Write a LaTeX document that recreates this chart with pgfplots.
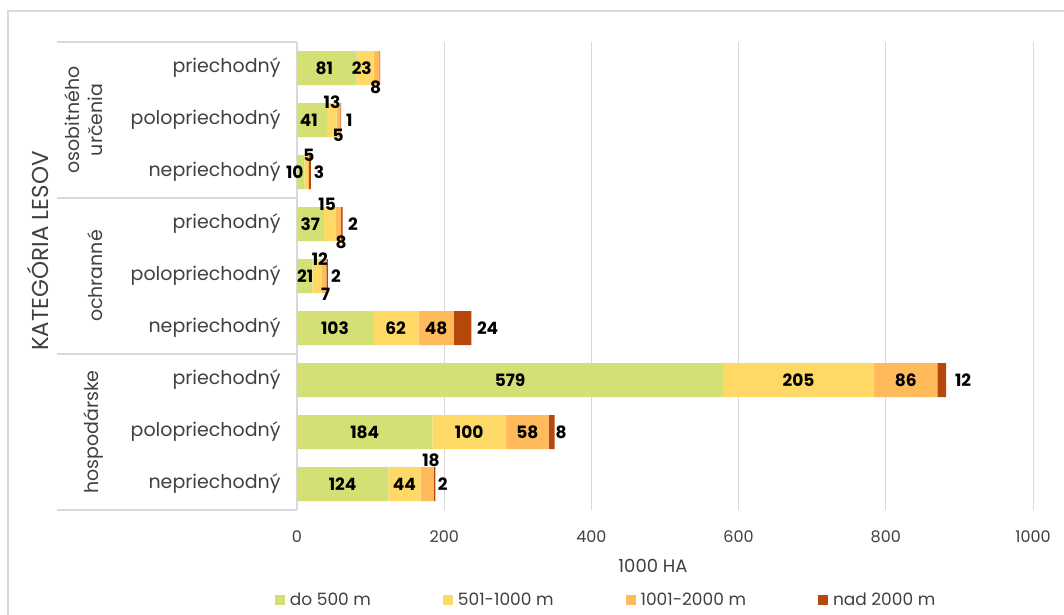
\documentclass[border=0pt]{standalone}
\usepackage{pgfplots}
\pgfplotsset{compat=1.18}
\usepackage{fontspec}
\setmainfont{Poppins}
\definecolor{cA}{RGB}{212,224,115}
\definecolor{cB}{RGB}{255,217,102}
\definecolor{cC}{RGB}{255,186,92}
\definecolor{cD}{RGB}{182,72,12}
\definecolor{grd}{RGB}{217,217,217}
\definecolor{txt}{RGB}{64,64,64}
\newcommand{\lab}[3]{\node[font=\bfseries\fontsize{17}{17}\selectfont, text=black, inner sep=0pt] at (axis cs:#1,#2) {#3};}
\begin{document}
\begin{tikzpicture}[x=1pt,y=1pt]
\path[use as bounding box] (0,0) rectangle (1064,-614);
\draw[grd, line width=1.5pt] (8,-640) -- (8,-11) -- (1080,-11);
\foreach \yy in {42,198,354,510} {\draw[grd, line width=1.5pt] (57,-\yy) -- (297,-\yy);}
\draw[grd, line width=1.5pt] (297,-42) -- (297,-510);
\node[rotate=90, font=\fontsize{23}{23}\selectfont, text=txt] at (38,-251) {KATEGÓRIA LESOV};
\node[rotate=90, align=center, font=\fontsize{19}{23}\selectfont, text=txt] at (84,-120) {osobitného\\určenia};
\node[rotate=90, font=\fontsize{19}{19}\selectfont, text=txt] at (95,-276) {ochranné};
\node[rotate=90, font=\fontsize{19}{19}\selectfont, text=txt] at (94,-432) {hospodárske};
\begin{axis}[
  at={(297pt,-510pt)}, anchor=south west,
  scale only axis, width=736pt, height=468pt,
  xmin=0, xmax=1000, ymin=-0.5, ymax=8.5,
  xbar stacked, bar width=34pt,
  ytick={0,...,8},
  yticklabels={nepriechodný,polopriechodný,priechodný,nepriechodný,polopriechodný,priechodný,nepriechodný,polopriechodný,priechodný},
  yticklabel style={font=\fontsize{19}{19}\selectfont, text=txt, xshift=-13pt},
  xtick={0,200,...,1000},
  xticklabel style={font=\fontsize{16}{16}\selectfont, text=txt, yshift=-17pt},
  /pgf/number format/assume math mode=true,
  /pgf/number format/1000 sep={},
  xmajorgrids, grid style={grd, line width=1pt},
  axis line style={draw=none},
  major tick length=0pt,
  xlabel={1000 HA},
  xlabel style={font=\fontsize{18}{18}\selectfont, text=txt, yshift=-10pt, xshift=-12pt},
  legend style={at={(0.42,-0.192)}, anchor=center, draw=none, fill=none, legend columns=4,
    font=\fontsize{17}{17}\selectfont, text=txt,
    /tikz/every odd column/.append style={column sep=3pt},
    /tikz/every even column/.append style={column sep=70pt}},
  legend image code/.code={\fill[#1] (0pt,-5pt) rectangle (10pt,5pt);},
]
\addplot[fill=cA, draw=none] coordinates {(124,0) (184,1) (579,2) (103,3) (21,4) (37,5) (10,6) (41,7) (81,8)};
\addplot[fill=cB, draw=none] coordinates {(44,0) (100,1) (205,2) (62,3) (12,4) (15,5) (5,6) (13,7) (23,8)};
\addplot[fill=cC, draw=none] coordinates {(18,0) (58,1) (86,2) (48,3) (7,4) (8,5) (1,6) (5,7) (8,8)};
\addplot[fill=cD, draw=none] coordinates {(2,0) (8,1) (12,2) (24,3) (2,4) (2,5) (3,6) (1,7) (1,8)};
\addlegendentry{do 500 m}
\addlegendentry{501-1000 m}
\addlegendentry{1001-2000 m}
\addlegendentry{nad 2000 m}
\end{axis}
\begin{axis}[
  at={(297pt,-510pt)}, anchor=south west,
  scale only axis, width=736pt, height=468pt,
  xmin=0, xmax=1000, ymin=-0.5, ymax=8.5,
  hide axis, clip=false,
]
\lab{37}{8}{81}
\lab{88}{8}{23}
\lab{107}{7.63}{8}
\lab{47.5}{7.35}{13}
\lab{16}{7}{41}
\lab{56}{6.71}{5}
\lab{71}{7}{1}
\lab{16}{6.33}{5}
\lab{-3}{6}{10}
\lab{30}{6}{3}
\lab{41}{5.37}{15}
\lab{18}{5}{37}
\lab{60}{4.65}{8}
\lab{76}{5}{2}
\lab{31}{4.33}{12}
\lab{11}{4}{21}
\lab{53}{4}{2}
\lab{39}{3.65}{7}
\lab{51.5}{3}{103}
\lab{134}{3}{62}
\lab{189}{3}{48}
\lab{259}{3}{24}
\lab{289.5}{2}{579}
\lab{681.5}{2}{205}
\lab{827}{2}{86}
\lab{905}{2}{12}
\lab{92}{1}{184}
\lab{234}{1}{100}
\lab{313}{1}{58}
\lab{359}{1}{8}
\lab{62}{0}{124}
\lab{146}{0}{44}
\lab{182}{0.46}{18}
\lab{198}{0}{2}
\end{axis}
\end{tikzpicture}
\end{document}
